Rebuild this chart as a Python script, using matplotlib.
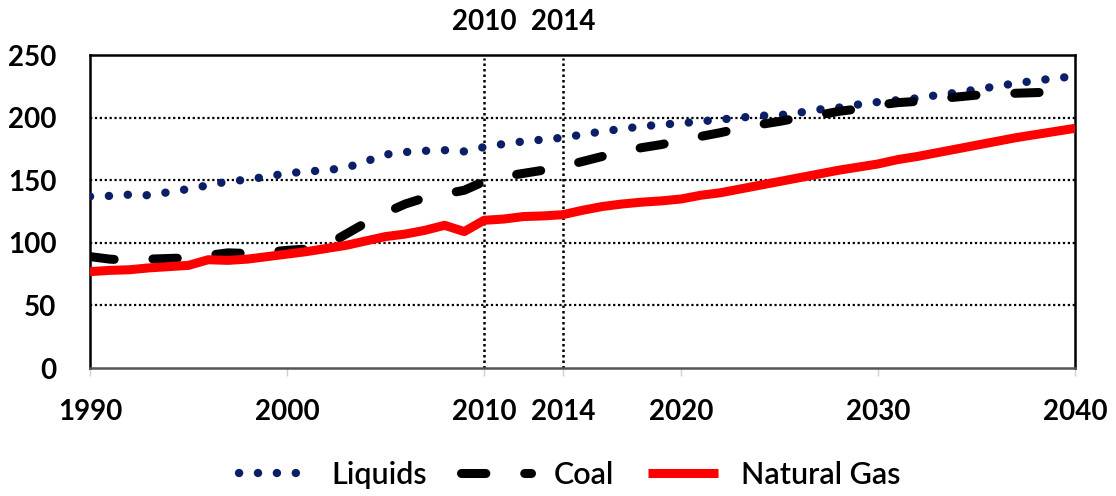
import numpy as np
import matplotlib
matplotlib.use("Agg")
import matplotlib.pyplot as plt

plt.rcParams['font.family'] = ['Lato', 'DejaVu Sans']

years = np.arange(1990, 2041)

liquids = [137, 137.5, 138.5, 138, 140.5, 143, 146, 149, 150.5, 153,
           155.5, 157, 158, 160, 165, 170.5, 172.5, 173.5, 174, 173,
           176.5, 179, 181, 182.5, 184, 186.5, 189, 191, 193, 194.5,
           195.5, 197, 198.5, 200, 201.5, 202, 204, 206.5, 208, 210.5,
           212.5, 214, 215.5, 218, 220, 222.5, 225, 227.5, 229.5, 231.5, 233]

coal = [89, 87, 86, 87, 87.5, 88, 90, 92, 91.5, 92.5,
        94, 95, 98, 107, 116, 124, 131, 136, 139, 142,
        149, 153, 155.5, 158, 161, 165, 169, 173, 176, 178.5,
        182, 185, 188, 191.5, 194.5, 197, 200, 202, 205, 207,
        210, 212, 213, 215, 216.5, 218, 218.5, 219.5, 220, 220.5, 221]

natural_gas = [77, 78, 78.5, 80, 81, 82, 86.5, 86, 87, 89,
               91, 93, 95.5, 98, 101.5, 105, 107, 110, 114, 109,
               118, 119, 121, 121.5, 122.5, 126, 129, 131, 132.5, 133.5,
               135, 138, 140, 143, 146, 149, 152, 155, 158, 160.5,
               163, 166.5, 169, 172, 175, 178, 181, 184, 186.5, 189, 191.5]

xticks = [1990, 2000, 2010, 2014, 2020, 2030, 2040]
marked_years = [2010, 2014]
yticks = [0, 50, 100, 150, 200, 250]

fig = plt.figure(figsize=(11.16, 4.96), dpi=100)
ax = fig.add_axes([0.0806, 0.258, 0.8827, 0.631])

ax.plot(years, liquids, color='#0b1f66', lw=6.0, linestyle=(0, (0.02, 2.25)),
        dash_capstyle='round', label='Liquids', zorder=3)
ax.plot(years, coal, color='black', lw=6.5, linestyle=(0, (2.7, 4.3)),
        dash_capstyle='round', label='Coal', zorder=3)
ax.plot(years, natural_gas, color='#ff0000', lw=6.5, solid_capstyle='butt',
        label='Natural Gas', zorder=4)

# horizontal dotted grid
for v in yticks[1:-1]:
    ax.axhline(v, color='black', lw=1.6, linestyle=(0, (1, 1.2)), zorder=1)

# vertical markers for the base years
for yr in marked_years:
    ax.axvline(yr, ymin=0, ymax=0.99, color='black', lw=1.8,
               linestyle=(0, (1, 1.2)), zorder=2)
    ax.text(yr, 1.105, str(yr), transform=ax.get_xaxis_transform(),
            ha='center', va='center', fontsize=20, fontweight='bold')

ax.set_xlim(1990, 2040)
ax.set_ylim(0, 250)
ax.set_xticks(xticks)
ax.set_xticklabels([str(t) for t in xticks], fontsize=20, fontweight='bold')
ax.set_yticks(yticks)
ax.set_yticklabels([str(t) for t in yticks], fontsize=20, fontweight='bold')
ax.tick_params(axis='y', length=0, pad=24)
ax.tick_params(axis='x', length=6, width=1, color='#d0d0d0', pad=16)

for side in ['left', 'top', 'right']:
    ax.spines[side].set_linewidth(1.8)
    ax.spines[side].set_color('black')
ax.spines['bottom'].set_linewidth(1.8)
ax.spines['bottom'].set_color('#555555')

leg = ax.legend(loc='center', bbox_to_anchor=(0.487, -0.342), ncol=3,
                frameon=False, prop={'size': 22, 'weight': 'semibold'},
                handlelength=2.3, handletextpad=0.75, columnspacing=1.1,
                borderpad=0)

fig.savefig('out.png', dpi=100)
